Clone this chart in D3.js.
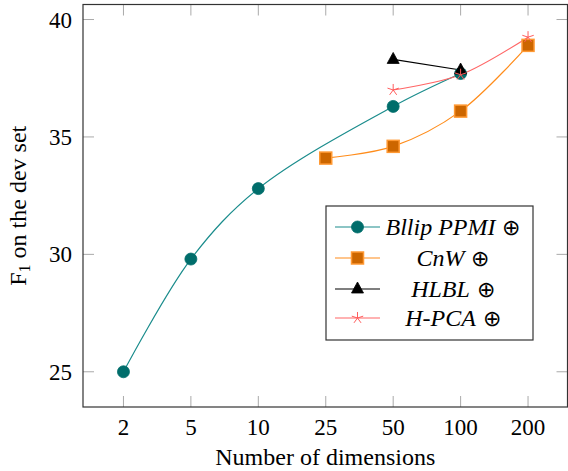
<!DOCTYPE html>
<html>
<head>
<meta charset="utf-8">
<script src="https://cdn.jsdelivr.net/npm/d3@7"></script>
<style>
  body { margin: 0; background: #fff; }
  svg { display: block; }
  svg text { font-family: "Liberation Serif", "DejaVu Serif", serif; }
  .tick-line { stroke: #aaa; stroke-width: 1; }
</style>
</head>
<body>
<div id="chart"></div>
<script>
// data
const dims = ['2', '5', '10', '25', '50', '100', '200']
const yTicks = [25, 30, 35, 40]

const bllipDims = ['2', '5', '10', '50', '100']
const bllipF1 = [25.0, 29.8, 32.8, 36.3, 37.7]
const cnwDims = ['25', '50', '100', '200']
const cnwF1 = [34.1, 34.6, 36.1, 38.9]
const hlblDims = ['50', '100']
const hlblF1 = [38.3, 37.85]
const hpcaDims = ['50', '100', '200']
const hpcaF1 = [37.0, 37.65, 39.25]

const seriesNames = ['Bllip PPMI', 'CnW', 'HLBL', 'H-PCA']

// dimension stuff
const width = 568
const height = 471
const plotLeft = 83
const plotRight = 567.5
const plotTop = 4.5
const plotBottom = 407
const tickLen = 11
const serif = '"Liberation Serif", "DejaVu Serif", serif'

const scaleX = d3.scalePoint().domain(dims).range([plotLeft, plotRight + 1]).padding(0.6)
const scaleY = d3.scaleLinear().domain([23.5, 40.64]).range([plotBottom, plotTop])

const series = [
  { name: seriesNames[0], dims: bllipDims, vals: bllipF1, line: '#1a8c8c', fill: '#006d6b', stroke: '#006d6b', marker: 'circle', curve: true },
  { name: seriesNames[1], dims: cnwDims, vals: cnwF1, line: '#ff8c1a', fill: '#cc6600', stroke: '#ff9933', marker: 'square', curve: true },
  { name: seriesNames[2], dims: hlblDims, vals: hlblF1, line: '#000', fill: '#000', stroke: '#000', marker: 'triangle', curve: false },
  { name: seriesNames[3], dims: hpcaDims, vals: hpcaF1, line: '#ff6666', fill: 'none', stroke: '#ff5c5c', marker: 'star', curve: true }
]

const $svg = d3.select('#chart').append('svg')
  .attr('width', width)
  .attr('height', height)
  .attr('font-family', serif)

// ticks (inside, all four sides)
const $ticks = $svg.append('g')
dims.forEach(d => {
  const x = scaleX(d)
  $ticks.append('line').attr('class', 'tick-line')
    .attr('x1', x).attr('x2', x).attr('y1', plotBottom).attr('y2', plotBottom - tickLen)
  $ticks.append('line').attr('class', 'tick-line')
    .attr('x1', x).attr('x2', x).attr('y1', plotTop).attr('y2', plotTop + tickLen)
})
yTicks.forEach(v => {
  const y = scaleY(v)
  $ticks.append('line').attr('class', 'tick-line')
    .attr('x1', plotLeft).attr('x2', plotLeft + tickLen).attr('y1', y).attr('y2', y)
  $ticks.append('line').attr('class', 'tick-line')
    .attr('x1', plotRight).attr('x2', plotRight - tickLen).attr('y1', y).attr('y2', y)
})

// tick labels
$svg.append('g').selectAll('text')
  .data(dims).enter().append('text')
  .attr('x', d => scaleX(d))
  .attr('y', 435)
  .attr('text-anchor', 'middle')
  .style('font-size', '23px')
  .text(d => d)

$svg.append('g').selectAll('text')
  .data(yTicks).enter().append('text')
  .attr('x', 72)
  .attr('y', d => scaleY(d) + 8)
  .attr('text-anchor', 'end')
  .style('font-size', '23px')
  .text(d => d)

// axis titles
$svg.append('text')
  .attr('x', (plotLeft + plotRight) / 2)
  .attr('y', 465)
  .attr('text-anchor', 'middle')
  .style('font-size', '24px')
  .text('Number of dimensions')

const yTitle = $svg.append('text')
  .attr('transform', `translate(26, ${(plotTop + plotBottom) / 2}) rotate(-90)`)
  .attr('text-anchor', 'middle')
  .style('font-size', '24px')
yTitle.append('tspan').text('F')
yTitle.append('tspan').attr('dy', 4).style('font-size', '16px').text('1')
yTitle.append('tspan').attr('dy', -4).text(' on the dev set')

// frame
$svg.append('rect')
  .attr('x', plotLeft).attr('y', plotTop)
  .attr('width', plotRight - plotLeft).attr('height', plotBottom - plotTop)
  .attr('fill', 'none').attr('stroke', '#333').attr('stroke-width', 1.2)

// markers
function drawMarker(g, type, x, y, s) {
  if (type === 'circle') {
    g.append('circle').attr('cx', x).attr('cy', y).attr('r', 6)
      .attr('fill', s.fill).attr('stroke', s.stroke).attr('stroke-width', 0.8)
  } else if (type === 'square') {
    g.append('rect').attr('x', x - 6).attr('y', y - 6).attr('width', 12).attr('height', 12)
      .attr('fill', s.fill).attr('stroke', s.stroke).attr('stroke-width', 1.5)
  } else if (type === 'triangle') {
    g.append('path').attr('d', `M${x},${y - 7}L${x + 6},${y + 4}L${x - 6},${y + 4}Z`)
      .attr('fill', s.fill).attr('stroke', s.stroke).attr('stroke-width', 0.8)
  } else if (type === 'star') {
    const r = 6
    let d = ''
    for (let i = 0; i < 5; i++) {
      const a = -Math.PI / 2 + i * 2 * Math.PI / 5
      d += `M${x},${y}L${x + r * Math.cos(a)},${y + r * Math.sin(a)}`
    }
    g.append('path').attr('d', d)
      .attr('fill', 'none').attr('stroke', s.stroke).attr('stroke-width', 1)
  }
}

const $vis = $svg.append('g')
series.forEach(s => {
  const pts = s.dims.map((d, i) => [scaleX(d), scaleY(s.vals[i])])
  const line = d3.line().curve(s.curve ? d3.curveCatmullRom.alpha(0.5) : d3.curveLinear)
  $vis.append('path')
    .attr('d', line(pts))
    .attr('fill', 'none')
    .attr('stroke', s.line)
    .attr('stroke-width', 1.2)
})
series.forEach(s => {
  s.dims.forEach((d, i) => drawMarker($vis, s.marker, scaleX(d), scaleY(s.vals[i]), s))
})

// legend
const lx = 326, ly = 206, lw = 207, lh = 134
const $legend = $svg.append('g')
$legend.append('rect')
  .attr('x', lx).attr('y', ly).attr('width', lw).attr('height', lh)
  .attr('fill', '#fff').attr('stroke', '#333').attr('stroke-width', 1.2)

const rowY = [227, 258, 289, 318]
series.forEach((s, i) => {
  const y = rowY[i]
  $legend.append('line')
    .attr('x1', 335).attr('x2', 380).attr('y1', y).attr('y2', y)
    .attr('stroke', s.line).attr('stroke-width', 1.2)
  drawMarker($legend, s.marker, 357.5, y, s)
  const t = $legend.append('text')
    .attr('x', 453).attr('y', y + 8)
    .attr('text-anchor', 'middle')
    .style('font-size', '24px')
  t.append('tspan').style('font-style', 'italic').text(s.name)
  t.append('tspan').attr('font-family', '"DejaVu Sans", sans-serif').style('font-size', '22px').style('font-weight', 300).text(' \u2295')
})
</script>
</body>
</html>
